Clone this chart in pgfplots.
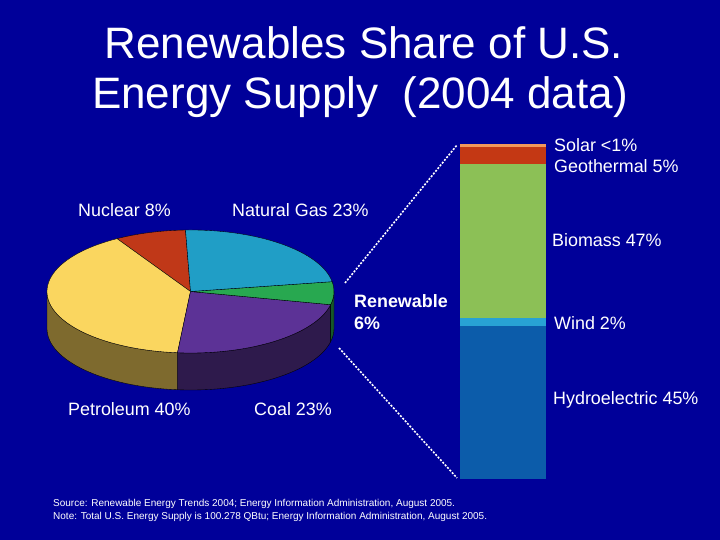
\documentclass[border=0pt]{standalone}
\usepackage{pgfplots}
\pgfplotsset{compat=1.18}
\usepackage{pgfplotstable}
\usepackage{fontspec}
\setmainfont{Liberation Sans}

\definecolor{bg}{RGB}{0,0,153}
\definecolor{nucTop}{RGB}{192,56,24}
\definecolor{petTop}{RGB}{250,214,95}
\definecolor{petSide}{RGB}{126,106,46}
\definecolor{coalTop}{RGB}{92,50,150}
\definecolor{coalSide}{RGB}{46,26,76}
\definecolor{renTop}{RGB}{40,168,80}
\definecolor{renSide}{RGB}{22,88,42}
\definecolor{gasTop}{RGB}{32,158,198}
\definecolor{hydro}{RGB}{12,92,170}
\definecolor{wind}{RGB}{40,162,212}
\definecolor{biomass}{RGB}{140,192,86}
\definecolor{geo}{RGB}{196,56,20}
\definecolor{solar}{RGB}{242,152,92}

% U.S. energy supply shares (percent)
\pgfplotstableread{
source value
Nuclear 8
Petroleum 40
Coal 23
Renewable 6
NaturalGas 23
}\piedata

\pgfplotstablegetelem{0}{value}\of\piedata\global\let\vNuc\pgfplotsretval
\pgfplotstablegetelem{1}{value}\of\piedata\global\let\vPet\pgfplotsretval
\pgfplotstablegetelem{2}{value}\of\piedata\global\let\vCoal\pgfplotsretval
\pgfplotstablegetelem{3}{value}\of\piedata\global\let\vRen\pgfplotsretval
\pgfplotstablegetelem{4}{value}\of\piedata\global\let\vGas\pgfplotsretval

\def\cx{190.5}\def\cy{248.5}\def\rx{143.5}\def\ry{61.5}\def\dep{37}
\pgfmathsetmacro\aA{92}
\pgfmathsetmacro\aB{\aA+3.6*\vNuc}
\pgfmathsetmacro\aC{\aB+3.6*\vPet}
\pgfmathsetmacro\aD{\aC+3.6*\vCoal}
\pgfmathsetmacro\aE{\aD+3.6*\vRen}
\pgfmathsetmacro\aF{\aE+3.6*\vGas}

\newcommand\piewedge[3]{\fill[#1, draw=black, line width=0.35pt] (\cx,\cy) -- ({\cx+\rx*cos(#2)},{\cy+\ry*sin(#2)}) arc[start angle=#2, end angle=#3, x radius=\rx pt, y radius=\ry pt] -- cycle;}
\newcommand\pieside[3]{\fill[#1, draw=black, line width=0.35pt] ({\cx+\rx*cos(#2)},{\cy+\ry*sin(#2)}) arc[start angle=#2, end angle=#3, x radius=\rx pt, y radius=\ry pt] -- ++(0pt,-\dep pt) arc[start angle=#3, end angle=#2, x radius=\rx pt, y radius=\ry pt] -- cycle;}

\newcommand\labfont{\fontsize{17.9}{21}\selectfont}
\newcommand\titfont{\fontsize{44}{50}\selectfont}
\newcommand\notefont{\fontsize{10}{12}\selectfont}

\begin{document}
\begin{tikzpicture}
\begin{axis}[at={(0pt,0pt)}, anchor=south west, scale only axis,
  width=720pt, height=540pt, xmin=0, xmax=720, ymin=0, ymax=540,
  axis lines=none, clip=false]
\fill[bg] (0,0) rectangle (720,540);
% side faces
\pieside{petSide}{180}{\aC}
\pieside{coalSide}{\aC}{\aD}
\pieside{renSide}{\aD}{360}
% top faces
\piewedge{nucTop}{\aA}{\aB}
\piewedge{petTop}{\aB}{\aC}
\piewedge{coalTop}{\aC}{\aD}
\piewedge{renTop}{\aD}{\aE}
\piewedge{gasTop}{\aE}{\aF}
% connectors
\draw[white, line width=1.6pt, dash pattern=on 2pt off 1.5pt] (345,257) -- (457,395);
\draw[white, line width=1.6pt, dash pattern=on 2pt off 1.5pt] (339,192) -- (457,62);
% title
\node[anchor=base, text=white, font=\titfont] at (364,481) {Renewables Share of U.S.};
\node[anchor=base, text=white, font=\titfont] at (360,431) {Energy Supply\ \ (2004 data)};
% pie labels
\node[anchor=base west, inner sep=0, text=white, font=\labfont] at (78,323.5) {Nuclear 8\%};
\node[anchor=base west, inner sep=0, text=white, font=\labfont] at (232,323.5) {Natural Gas 23\%};
\node[anchor=base west, inner sep=0, text=white, font=\labfont] at (68,124.5) {Petroleum 40\%};
\node[anchor=base west, inner sep=0, text=white, font=\labfont] at (254,124.5) {Coal 23\%};
\node[anchor=base west, inner sep=0, text=white, font=\labfont\bfseries] at (354,232.5) {Renewable};
\node[anchor=base west, inner sep=0, text=white, font=\labfont\bfseries] at (354,210.5) {6\%};
% bar labels
\node[anchor=base west, inner sep=0, text=white, font=\labfont] at (554,388.5) {Solar <1\%};
\node[anchor=base west, inner sep=0, text=white, font=\labfont] at (554,367.5) {Geothermal 5\%};
\node[anchor=base west, inner sep=0, text=white, font=\labfont] at (552,293.5) {Biomass 47\%};
\node[anchor=base west, inner sep=0, text=white, font=\labfont] at (554,210.5) {Wind 2\%};
\node[anchor=base west, inner sep=0, text=white, font=\labfont] at (553,135.5) {Hydroelectric 45\%};
% notes
\node[anchor=base west, inner sep=0, text=white, font=\notefont] at (53,33.5) {Source: Renewable Energy Trends 2004; Energy Information Administration, August 2005.};
\node[anchor=base west, inner sep=0, text=white, font=\notefont] at (53,20.5) {Note: Total U.S. Energy Supply is 100.278 QBtu; Energy Information Administration, August 2005.};
\end{axis}
\begin{axis}[at={(460pt,61pt)}, anchor=south west, scale only axis,
  width=86pt, height=335pt, ybar stacked, bar width=86pt,
  xmin=-0.5, xmax=0.5, ymin=0, ymax=100, axis lines=none, clip=false]
\addplot[fill=hydro, draw=none] coordinates {(0,45.8)};
\addplot[fill=wind, draw=none] coordinates {(0,2.2)};
\addplot[fill=biomass, draw=none] coordinates {(0,46)};
\addplot[fill=geo, draw=none] coordinates {(0,5.1)};
\addplot[fill=solar, draw=none] coordinates {(0,0.9)};
\end{axis}
\pgfresetboundingbox
\useasboundingbox (0,0) rectangle (720pt,540pt);
\end{tikzpicture}
\end{document}
